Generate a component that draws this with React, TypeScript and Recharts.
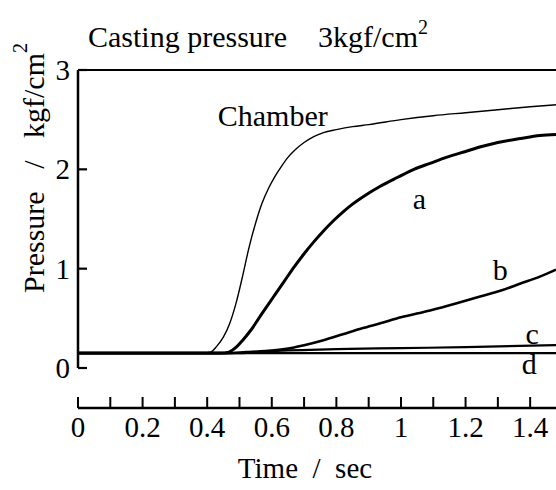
import React from 'react';
import { LineChart, Line, XAxis, YAxis, ReferenceLine, ReferenceDot, Label } from 'recharts';

const FONT = '"Liberation Serif", "DejaVu Serif", serif';

// Time (sec) / pressure (kgf/cm^2)
const chamberT = [0, 0.38, 0.41, 0.43, 0.45, 0.47, 0.49, 0.51, 0.53, 0.55, 0.57, 0.59, 0.61, 0.63, 0.65, 0.67, 0.7, 0.73, 0.76, 0.8, 0.85, 0.9, 1.0, 1.1, 1.2, 1.3, 1.4, 1.48];
const chamberP = [0.15, 0.15, 0.16, 0.22, 0.31, 0.45, 0.66, 0.93, 1.22, 1.46, 1.66, 1.81, 1.93, 2.03, 2.12, 2.19, 2.27, 2.33, 2.37, 2.4, 2.43, 2.45, 2.5, 2.54, 2.57, 2.6, 2.63, 2.65];

const aT = [0, 0.44, 0.467, 0.49, 0.51, 0.535, 0.57, 0.606, 0.64, 0.67, 0.7, 0.73, 0.76, 0.79, 0.82, 0.85, 0.89, 0.936, 0.99, 1.04, 1.09, 1.14, 1.2, 1.25, 1.3, 1.37, 1.43, 1.48];
const aP = [0.15, 0.15, 0.16, 0.21, 0.28, 0.38, 0.55, 0.72, 0.88, 1.02, 1.15, 1.27, 1.38, 1.48, 1.57, 1.65, 1.74, 1.83, 1.92, 2.0, 2.06, 2.12, 2.18, 2.23, 2.27, 2.31, 2.34, 2.35];

const bT = [0, 0.46, 0.52, 0.58, 0.64, 0.7, 0.76, 0.82, 0.88, 0.936, 1.0, 1.09, 1.17, 1.245, 1.31, 1.37, 1.43, 1.48];
const bP = [0.15, 0.15, 0.16, 0.17, 0.19, 0.23, 0.28, 0.34, 0.4, 0.45, 0.51, 0.58, 0.65, 0.72, 0.78, 0.85, 0.92, 0.99];

const cT = [0, 0.5, 0.6, 0.8, 1.0, 1.2, 1.48];
const cP = [0.15, 0.15, 0.17, 0.19, 0.2, 0.21, 0.23];

const dT = [0, 1.48];
const dP = [0.15, 0.15];

const xTicks = [0, 0.1, 0.2, 0.3, 0.4, 0.5, 0.6, 0.7, 0.8, 0.9, 1.0, 1.1, 1.2, 1.3, 1.4];
const xTickLabels = ['0', '', '0.2', '', '0.4', '', '0.6', '', '0.8', '', '1', '', '1.2', '', '1.4'];
const yTicks = [0, 1, 2, 3];
const yTickLabels = ['0', '1', '2', '3'];

const curveLabels = [
  { name: 'Chamber', t: 0.603, p: 2.54 },
  { name: 'a', t: 1.057, p: 1.71 },
  { name: 'b', t: 1.307, p: 0.99 },
  { name: 'c', t: 1.406, p: 0.35 },
  { name: 'd', t: 1.397, p: 0.05 },
];

const toRows = (ts: number[], ps: number[]) => ts.map((t, i) => ({ t, p: ps[i] }));

const series = [
  { key: 'chamber', data: toRows(chamberT, chamberP), width: 1.4 },
  { key: 'a', data: toRows(aT, aP), width: 3 },
  { key: 'b', data: toRows(bT, bP), width: 2.6 },
  { key: 'c', data: toRows(cT, cP), width: 2.2 },
  { key: 'd', data: toRows(dT, dP), width: 2.2 },
];

const XTick = (props: any) => {
  const { x, y, index } = props;
  const label = xTickLabels[index];
  return (
    <g>
      <line x1={x} x2={x} y1={y} y2={y - 11} stroke="#000" strokeWidth={2} />
      {label ? (
        <text x={x} y={y + 29} textAnchor="middle" fontFamily={FONT} fontSize={29} fill="#000">
          {label}
        </text>
      ) : null}
    </g>
  );
};

const YTick = (props: any) => {
  const { x, y, index } = props;
  return (
    <g>
      <line x1={x} x2={x + 9} y1={y} y2={y} stroke="#000" strokeWidth={2.2} />
      <text x={x - 8} y={y + 10} textAnchor="end" fontFamily={FONT} fontSize={29} fill="#000">
        {yTickLabels[index]}
      </text>
    </g>
  );
};

export default function App() {
  return (
    <div style={{ position: 'absolute', left: 0, top: 0, width: 556, height: 490, background: '#fff', overflow: 'hidden' }}>
      <LineChart width={556} height={490} margin={{ top: 70, right: 0, bottom: 0, left: 28 }}>
        <XAxis
          type="number"
          dataKey="t"
          domain={[0, 1.48]}
          allowDataOverflow
          ticks={xTicks}
          interval={0}
          height={82}
          tickSize={0}
          tickMargin={0}
          tickLine={false}
          axisLine={{ stroke: '#000', strokeWidth: 2.5 }}
          tick={<XTick />}
        />
        <YAxis
          type="number"
          dataKey="p"
          domain={[-0.4027, 3]}
          allowDataOverflow
          ticks={yTicks}
          interval={0}
          width={50}
          tickSize={0}
          tickMargin={0}
          tickLine={false}
          axisLine={false}
          tick={<YTick />}
        />
        <ReferenceLine y={3} stroke="#000" strokeWidth={2.2} ifOverflow="visible" />
        <ReferenceLine
          segment={[{ x: 0, y: 0 }, { x: 0, y: 3 }]}
          stroke="#000"
          strokeWidth={2.5}
          ifOverflow="visible"
        />
        {series.map((s) => (
          <Line
            key={s.key}
            data={s.data}
            dataKey="p"
            type="monotone"
            stroke="#000"
            strokeWidth={s.width}
            dot={false}
            isAnimationActive={false}
          />
        ))}
        {curveLabels.map((l) => (
          <ReferenceDot key={l.name} x={l.t} y={l.p} r={0} fill="none" stroke="none" ifOverflow="visible">
            <Label value={l.name} position="center" fontFamily={FONT} fontSize={30} fill="#000" />
          </ReferenceDot>
        ))}
        <text x={88} y={47} fontFamily={FONT} fontSize={30} fill="#000">
          Casting pressure
        </text>
        <text x={318} y={47} fontFamily={FONT} fontSize={30} fill="#000">
          3kgf/cm
          <tspan dy={-13} fontSize={20}>2</tspan>
        </text>
        <text
          x={33}
          y={168}
          transform="rotate(-90 33 168)"
          textAnchor="middle"
          dominantBaseline="central"
          fontFamily={FONT}
          fontSize={30}
          fill="#000"
          style={{ whiteSpace: 'pre' }}
        >
          {'Pressure   /   kgf/cm'}
          <tspan dy={-13} fontSize={20}>2</tspan>
        </text>
        <text x={305} y={478} textAnchor="middle" fontFamily={FONT} fontSize={29} fill="#000" style={{ whiteSpace: 'pre' }}>
          {'Time  /  sec'}
        </text>
      </LineChart>
    </div>
  );
}
